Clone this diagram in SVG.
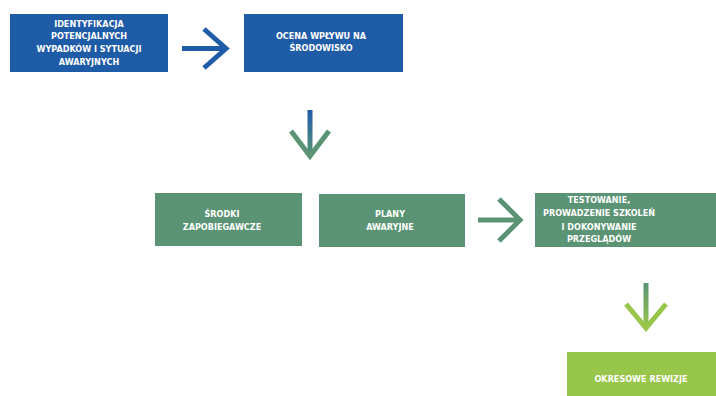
<svg xmlns="http://www.w3.org/2000/svg" width="716" height="396" viewBox="0 0 716 396">
  <defs>
    <linearGradient id="gBlueGreen" x1="0" y1="0" x2="0" y2="1">
      <stop offset="0" stop-color="#1f5ca8"/>
      <stop offset="1" stop-color="#5a9474"/>
    </linearGradient>
    <linearGradient id="gGreenLime" x1="0" y1="0" x2="0" y2="1">
      <stop offset="0" stop-color="#5a9474"/>
      <stop offset="1" stop-color="#97c64a"/>
    </linearGradient>
  </defs>
  <style>
    .blue { fill: #1f5ca8; }
    .green { fill: #5a9474; }
    .lime { fill: #97c64a; }
    text { font-family: "DejaVu Sans Condensed", "DejaVu Sans", sans-serif; font-weight: bold; font-size: 9px; fill: #ffffff; text-anchor: middle; }
    .arrow { fill: none; stroke-width: 5; stroke-linecap: butt; stroke-linejoin: miter; }
  </style>
  <rect width="716" height="396" fill="#ffffff"/>

  <g id="identyfikacja">
    <rect class="blue" x="10" y="14" width="158" height="58"/>
    <text x="89" y="27">IDENTYFIKACJA</text>
    <text x="89" y="39">POTENCJALNYCH</text>
    <text x="89" y="52">WYPADKÓW I SYTUACJI</text>
    <text x="89" y="65">AWARYJNYCH</text>
  </g>

  <g id="ocena">
    <rect class="blue" x="244" y="14" width="159" height="58"/>
    <text x="321" y="39">OCENA WPŁYWU NA</text>
    <text x="321" y="51">ŚRODOWISKO</text>
  </g>

  <g id="srodki">
    <rect class="green" x="155" y="193" width="147" height="53"/>
    <text x="222" y="217">ŚRODKI</text>
    <text x="222" y="230">ZAPOBIEGAWCZE</text>
  </g>

  <g id="plany">
    <rect class="green" x="319" y="194" width="146" height="53"/>
    <text x="390" y="217">PLANY</text>
    <text x="390" y="230">AWARYJNE</text>
  </g>

  <g id="testowanie">
    <rect class="green" x="535" y="193" width="181" height="54"/>
    <text x="599" y="203">TESTOWANIE,</text>
    <text x="599" y="216">PROWADZENIE SZKOLEŃ</text>
    <text x="599" y="230">I DOKONYWANIE</text>
    <text x="599" y="242">PRZEGLĄDÓW</text>
  </g>

  <g id="rewizje">
    <rect class="lime" x="567" y="352" width="149" height="44"/>
    <text x="641" y="382">OKRESOWE REWIZJE</text>
  </g>

  <g id="connectors">
    <!-- blue arrow between the top boxes -->
    <line class="arrow" x1="182" y1="48.5" x2="226" y2="48.5" stroke="#1f5ca8"/>
    <polyline class="arrow" points="204,29 226,48.5 204,68" stroke="#1f5ca8"/>
    <!-- down arrow into the green row -->
    <rect x="307.5" y="110" width="5" height="46" fill="url(#gBlueGreen)"/>
    <polyline class="arrow" points="291,131 310,156 329,131" stroke="#5a9474"/>
    <!-- green arrow to testing -->
    <line class="arrow" x1="478" y1="220" x2="520" y2="220" stroke="#5a9474"/>
    <polyline class="arrow" points="499,199 520,220 499,241" stroke="#5a9474"/>
    <!-- down arrow to periodic reviews -->
    <rect x="643.5" y="283" width="5" height="45" fill="url(#gGreenLime)"/>
    <polyline class="arrow" points="626,304 646,328 666,304" stroke="#97c64a"/>
  </g>
</svg>
